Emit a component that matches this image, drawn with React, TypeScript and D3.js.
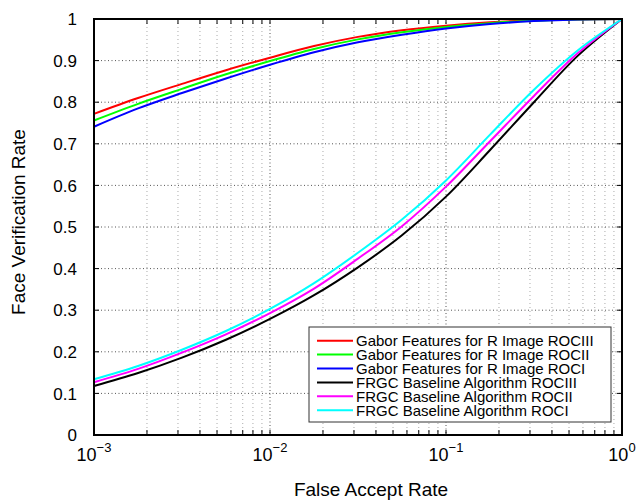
import React from "react";
import * as d3 from "d3";

// False accept rate sample points (log-spaced)
const far = [0.001, 0.00178, 0.00316, 0.00562, 0.01, 0.0178, 0.0316, 0.0562, 0.1, 0.178, 0.316, 0.562, 1];

const gaborROCIII = [0.772, 0.81, 0.844, 0.877, 0.907, 0.935, 0.957, 0.973, 0.984, 0.992, 0.997, 0.999, 1.0];
const gaborROCII = [0.756, 0.796, 0.832, 0.867, 0.899, 0.928, 0.951, 0.968, 0.981, 0.99, 0.996, 0.999, 1.0];
const gaborROCI = [0.741, 0.785, 0.822, 0.857, 0.890, 0.920, 0.944, 0.962, 0.977, 0.988, 0.995, 0.999, 1.0];
const frgcROCIII = [0.118, 0.149, 0.186, 0.229, 0.279, 0.336, 0.403, 0.48, 0.573, 0.685, 0.8, 0.912, 1.0];
const frgcROCII = [0.127, 0.159, 0.198, 0.242, 0.293, 0.352, 0.424, 0.502, 0.597, 0.706, 0.815, 0.918, 1.0];
const frgcROCI = [0.134, 0.166, 0.205, 0.25, 0.303, 0.365, 0.438, 0.518, 0.612, 0.722, 0.83, 0.925, 1.0];

const seriesNames = [
  "Gabor Features for R Image ROCIII",
  "Gabor Features for R Image ROCII",
  "Gabor Features for R Image ROCI",
  "FRGC Baseline Algorithm ROCIII",
  "FRGC Baseline Algorithm ROCII",
  "FRGC Baseline Algorithm ROCI",
];
const seriesValues = [gaborROCIII, gaborROCII, gaborROCI, frgcROCIII, frgcROCII, frgcROCI];
const seriesColors = ["#ff0000", "#00ff00", "#0000ff", "#000000", "#ff00ff", "#00ffff"];

const xMajorTicks = [0.001, 0.01, 0.1, 1];
const xTickExponents = ["−3", "−2", "−1", "0"];
const yTicks = [0, 0.1, 0.2, 0.3, 0.4, 0.5, 0.6, 0.7, 0.8, 0.9, 1];
const yTickLabels = ["0", "0.1", "0.2", "0.3", "0.4", "0.5", "0.6", "0.7", "0.8", "0.9", "1"];

const W = 636;
const H = 502;
const L = 94, R = 622, T = 19, B = 435;
const FONT = "'Liberation Sans', Arial, Helvetica, sans-serif";

export default function App() {
  const x = d3.scaleLog().domain([0.001, 1]).range([L, R]);
  const y = d3.scaleLinear().domain([0, 1]).range([B, T]);

  const minorTicks: number[] = [];
  for (const dec of [0.001, 0.01, 0.1]) {
    for (let k = 2; k <= 9; k++) minorTicks.push(dec * k);
  }

  const line = d3
    .line<number>()
    .x((_, i) => x(far[i]))
    .y((d) => y(d))
    .curve(d3.curveCatmullRom.alpha(0.5));

  const tickLen = 5;
  const legX = 309, legY = 327, legW = 302, legH = 95;
  const rowH = 13.9;

  return (
    <svg
      width={W}
      height={H}
      style={{ position: "absolute", left: 0, top: 0, background: "#fff" }}
      fontFamily={FONT}
    >
      <rect x={0} y={0} width={W} height={H} fill="#fff" />
      {/* grid */}
      <g>
        {minorTicks.map((t, i) => (
          <line key={"mg" + i} x1={x(t)} x2={x(t)} y1={T} y2={B} stroke="#aaa" strokeWidth={1} strokeDasharray="1,3" />
        ))}
        {xMajorTicks.slice(1, -1).map((t, i) => (
          <line key={"xg" + i} x1={x(t)} x2={x(t)} y1={T} y2={B} stroke="#555" strokeWidth={1} strokeDasharray="1,2.5" />
        ))}
        {yTicks.slice(1, -1).map((t, i) => (
          <line key={"yg" + i} x1={L} x2={R} y1={y(t)} y2={y(t)} stroke="#555" strokeWidth={1} strokeDasharray="1,2.5" />
        ))}
      </g>
      {/* ticks */}
      <g stroke="#000" strokeWidth={1}>
        {[...xMajorTicks, ...minorTicks].map((t, i) => (
          <g key={"xt" + i}>
            <line x1={x(t)} x2={x(t)} y1={B} y2={B - tickLen} />
            <line x1={x(t)} x2={x(t)} y1={T} y2={T + tickLen} />
          </g>
        ))}
        {yTicks.map((t, i) => (
          <g key={"yt" + i}>
            <line x1={L} x2={L + tickLen} y1={y(t)} y2={y(t)} />
            <line x1={R} x2={R - tickLen} y1={y(t)} y2={y(t)} />
          </g>
        ))}
      </g>
      {/* curves */}
      <g fill="none" strokeWidth={2}>
        {seriesValues.map((vals, i) => (
          <path key={"s" + i} d={line(vals) || ""} stroke={seriesColors[i]} />
        ))}
      </g>
      {/* frame */}
      <rect x={L} y={T} width={R - L} height={B - T} fill="none" stroke="#000" strokeWidth={2} />
      {/* y tick labels */}
      {yTicks.map((t, i) => (
        <text key={"yl" + i} x={77} y={y(t)} dy="0.36em" textAnchor="end" fontSize={17} fill="#000">
          {yTickLabels[i]}
        </text>
      ))}
      {/* x tick labels */}
      {xMajorTicks.map((t, i) => (
        <text key={"xl" + i} x={x(t)} y={461} textAnchor="middle" fontSize={18} fill="#000">
          10
          <tspan dy={-9} fontSize={13}>
            {xTickExponents[i]}
          </tspan>
        </text>
      ))}
      {/* axis labels */}
      <text x={371} y={496} textAnchor="middle" fontSize={19} fill="#000">
        False Accept Rate
      </text>
      <text
        transform={`translate(25,${222}) rotate(-90)`}
        textAnchor="middle"
        fontSize={19}
        fill="#000"
      >
        Face Verification Rate
      </text>
      {/* legend */}
      <g>
        <rect x={legX} y={legY} width={legW} height={legH} fill="#fff" stroke="#333" strokeWidth={1} />
        {seriesNames.map((name, i) => {
          const cy = legY + 13.7 + i * rowH;
          return (
            <g key={"lg" + i}>
              <line x1={317} x2={353} y1={cy} y2={cy} stroke={seriesColors[i]} strokeWidth={2} />
              <text x={356} y={cy} dy="0.36em" fontSize={15} fill="#000">
                {name}
              </text>
            </g>
          );
        })}
      </g>
    </svg>
  );
}
